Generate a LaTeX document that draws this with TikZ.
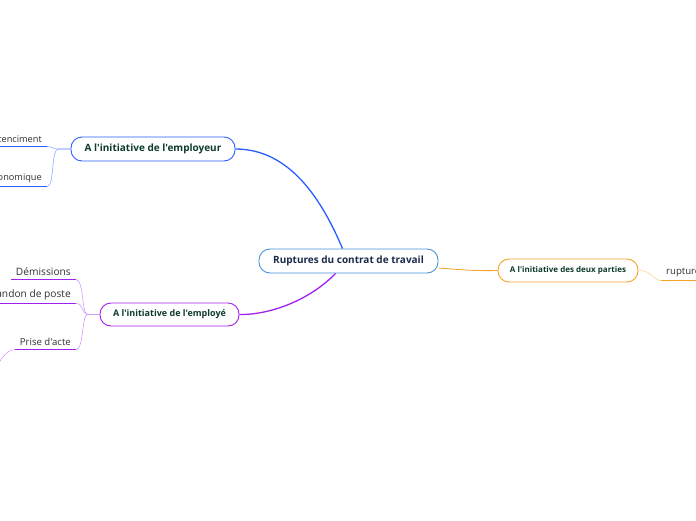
\documentclass[tikz,border=0pt]{standalone}
\usepackage{fontspec}
\setmainfont{Open Sans}[Ligatures=TeXOff]
\definecolor{cblue}{HTML}{4A93DB}
\definecolor{eblue}{HTML}{2B5DFF}
\definecolor{lblue}{HTML}{8AABFF}
\definecolor{epurp}{HTML}{A020F0}
\definecolor{lpurp}{HTML}{D49BFF}
\definecolor{eorng}{HTML}{F5A226}
\definecolor{lorng}{HTML}{FCD595}
\definecolor{navy}{HTML}{1B2A4B}
\definecolor{dgreen}{HTML}{0D3B2E}
\definecolor{ctext}{HTML}{303030}
\tikzset{
  mainbox/.style={draw=cblue, line width=0.9pt, rounded corners=11pt, fill=white,
    minimum width=179pt, minimum height=24pt, inner sep=0pt,
    font=\fontsize{10}{12}\selectfont\bfseries, text=navy},
  topicbox/.style={draw=#1, line width=0.9pt, rounded corners=11pt, fill=white,
    inner sep=0pt, text=dgreen},
  leaf/.style={inner xsep=5pt, inner ysep=3.5pt, text=ctext, anchor=south east,
    font=\fontsize{9.2}{11}\selectfont},
  uline/.style={line width=1.5pt, draw=#1},
  branch/.style={line width=1.3pt, draw=#1},
  twig/.style={line width=0.6pt, draw=#1},
}
\begin{document}
\begin{tikzpicture}[x=1pt,y=-1pt]
\useasboundingbox (0,0) rectangle (696,520);
% main nodes
\node[mainbox] (root) at (348.5,261) {Ruptures du contrat de travail};
\node[topicbox=eblue, minimum width=164pt, minimum height=24pt,
  font=\fontsize{10}{12}\selectfont\bfseries] (emp) at (153,149) {A l'initiative de l'employeur};
\node[topicbox=epurp, minimum width=139pt, minimum height=23pt,
  font=\fontsize{9}{11}\selectfont\bfseries] (sal) at (169.5,314.5) {A l'initiative de l'employé};
\node[topicbox=eorng, minimum width=140pt, minimum height=23pt,
  font=\fontsize{8}{10}\selectfont\bfseries] (both) at (568,270.5) {A l'initiative des deux parties};
% main branches
\draw[branch=eblue] (root.north) ++(-6,0) coordinate (r1) .. controls (322,200) and (290,149) .. (emp.east);
\draw[branch=epurp] (root.south) ++(-13,0) coordinate (r2) .. controls (310,300) and (270,315) .. (sal.east);
\draw[twig=eorng, line width=0.8pt] (root.east) ++(0,7) coordinate (r3) .. controls (465,270) and (475,271) .. (both.west);
% employer leaves
\node[leaf] (l1) at (47,146.5) {Licenciment};
\node[leaf] (l2) at (47,186.5) {Licenciment économique};
\draw[uline=eblue] (l1.south west) -- (l1.south east);
\draw[uline=eblue] (l2.south west) -- (l2.south east);
\draw[twig=lblue] (emp.west) -- ++(-12,0) .. controls +(-6,0) and +(6,0) .. (l1.south east);
\draw[twig=lblue] (emp.west) -- ++(-12,0) .. controls +(-8,0) and +(8,0) .. (l2.south east);
% employee leaves
\node[leaf, font=\fontsize{10.2}{12}\selectfont] (s1) at (76,279.5) {Démissions};
\node[leaf, font=\fontsize{10.2}{12}\selectfont] (s2) at (76,303.5) {Abandon de poste};
\node[leaf, font=\fontsize{9.6}{11}\selectfont] (s3) at (76,349.5) {\makebox[51pt][r]{Prise d'acte}};
\draw[uline=epurp] (s1.south west) -- (s1.south east);
\draw[uline=epurp] (s2.south west) -- (s2.south east);
\draw[uline=epurp] (s3.south west) -- (s3.south east);
\draw[twig=lpurp] (sal.west) -- ++(-12,0) .. controls +(-6,0) and +(8,0) .. (s1.south east);
\draw[twig=lpurp] (sal.west) -- ++(-12,0) .. controls +(-6,0) and +(8,0) .. (s2.south east);
\draw[twig=lpurp] (sal.west) -- ++(-12,0) .. controls +(-6,0) and +(8,0) .. (s3.south east);
\coordinate (off) at (-10,400);
\draw[twig=lpurp] (s3.south west) .. controls +(-10,0) and +(0,-30) .. (off);
% both-parties leaf
\node[leaf, anchor=south west, font=\fontsize{9.6}{11}\selectfont] (b1) at (661,280.5) {rupture conventionnelle};
\draw[uline=eorng] (b1.south west) -- (b1.south east);
\draw[twig=lorng] (both.east) .. controls +(14,0) and +(-8,0) .. (b1.south west);
\end{tikzpicture}
\end{document}
